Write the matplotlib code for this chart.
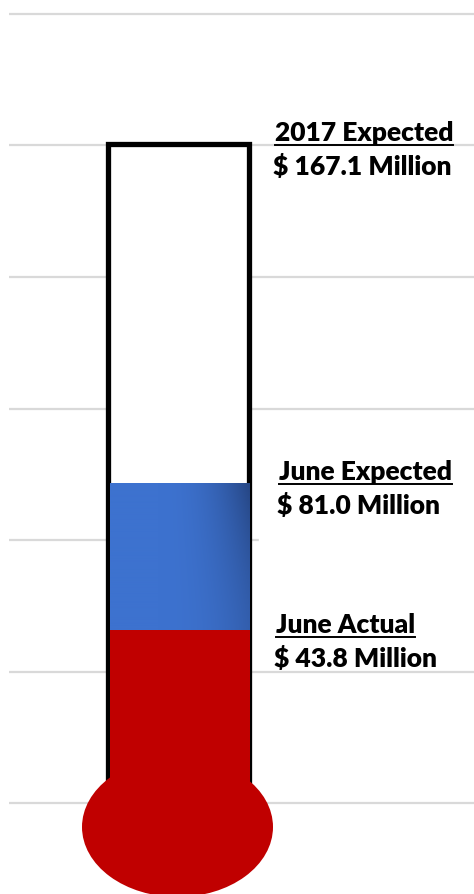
import matplotlib
matplotlib.use('Agg')
import matplotlib.pyplot as plt
import numpy as np
from matplotlib.patches import Rectangle, Ellipse

# values in $ million
goal_2017 = 167.1
june_expected = 81.0
june_actual = 43.8
axis_max = 200.0
n_grid = 6

headings = ['2017 Expected', 'June Expected', 'June Actual']
amounts = ['$ 167.1 Million', '$ 81.0 Million', '$ 43.8 Million']

W, H = 474, 894
px_per_unit = 789 / axis_max        # 0 sits at pixel 803, 200 at pixel 14
y_bottom = -(H - 803) / px_per_unit
y_top = axis_max + 14 / px_per_unit

fig = plt.figure(figsize=(W / 100, H / 100), dpi=100)
ax = fig.add_axes([0, 0, 1, 1])
ax.set_xlim(0, W)
ax.set_ylim(y_bottom, y_top)
ax.axis('off')

def u(px):
    # pixel height -> data units
    return px / px_per_unit

# gridlines
for g in np.linspace(0, axis_max, n_grid + 1):
    ax.plot([9, W], [g, g], color='#d9d9d9', lw=1.6, zorder=1, solid_capstyle='butt')

# white box behind the June Expected label hides the grid there
ax.add_patch(Rectangle((259, june_expected - u(80)), W - 259, u(110), color='white', zorder=2))

# tube
tube_l, tube_r = 108.5, 249.5
ax.add_patch(Rectangle((tube_l, u(-20)), tube_r - tube_l, goal_2017 - u(-20),
                       facecolor='white', edgecolor='black', lw=3.8, zorder=3, joinstyle='miter'))

# red fill (actual)
bar_l, bar_r = 110.5, 250.5
ax.add_patch(Rectangle((bar_l, u(-40)), bar_r - bar_l, june_actual - u(-40),
                       color='#c00000', zorder=4, lw=0))

# blue fill (expected) with soft shading toward the right top corner
nx, ny = 140, 80
xs = np.linspace(0, 1, nx)
ys = np.linspace(0, 1, ny)
X, Y = np.meshgrid(xs, ys)
shade = np.clip((X - 0.35) / 0.65, 0, 1) ** 2.2 * (0.45 + 0.55 * Y ** 1.5)
base = np.array([61, 114, 207]) / 255
dark = np.array([38, 70, 132]) / 255
img = base[None, None, :] * (1 - shade[..., None]) + dark[None, None, :] * shade[..., None]
ax.imshow(img, extent=[bar_l, bar_r, june_actual, june_expected], origin='lower',
          aspect='auto', zorder=4, interpolation='bilinear')
ax.set_xlim(0, W)
ax.set_ylim(y_bottom, y_top)

# bulb
ax.add_patch(Ellipse((177.5, -u(24)), 191, u(140), color='#c00000', zorder=5, lw=0))

# labels
label_pos = [275, 279, 276]
label_base = [u(803 - 141), u(803 - 480), u(803 - 633)]
fam = ['Lato', 'DejaVu Sans']
fig.canvas.draw()
r = fig.canvas.get_renderer()
for x, yb, head, amt in zip(label_pos, label_base, headings, amounts):
    t = ax.text(x, yb, head, fontsize=19, fontweight='heavy', family=fam,
                va='baseline', ha='left', zorder=6, color='black')
    ax.text(x - 2, yb - u(34), amt, fontsize=19, fontweight='heavy', family=fam,
            va='baseline', ha='left', zorder=6, color='black')
    bb = t.get_window_extent(renderer=r)
    ax.plot([bb.x0, bb.x1], [yb - u(4), yb - u(4)], color='black', lw=1.4, zorder=6)

fig.savefig('out.png', dpi=100)
